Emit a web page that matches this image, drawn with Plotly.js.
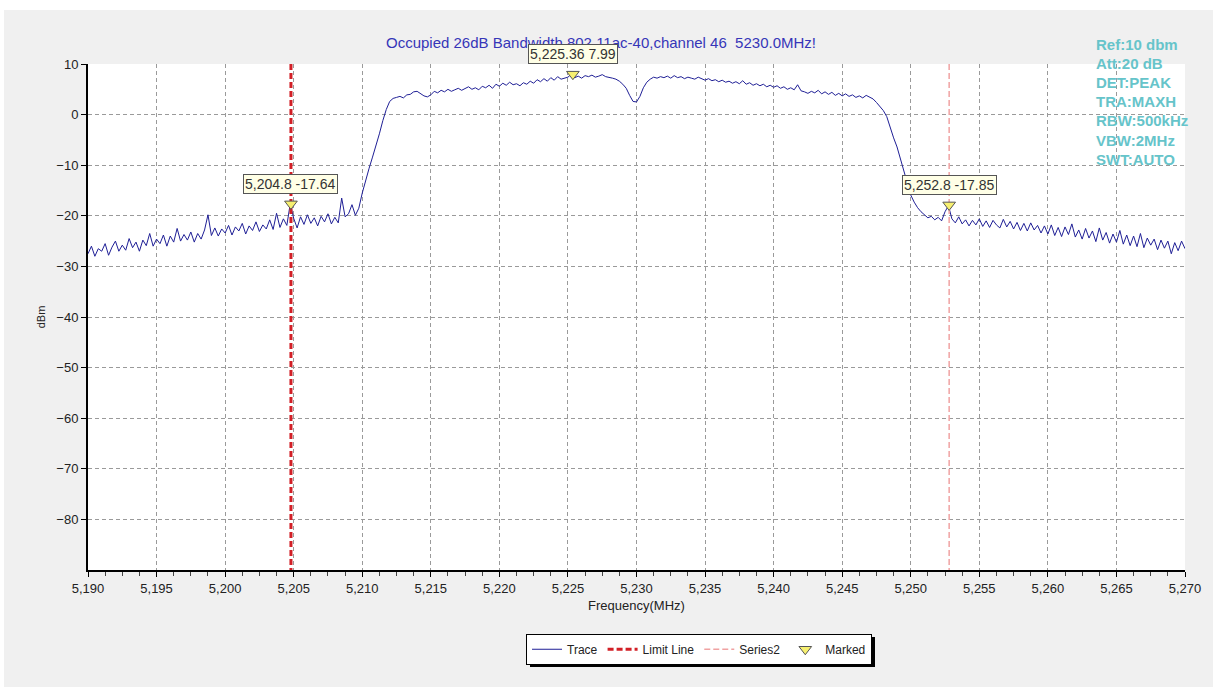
<!DOCTYPE html>
<html>
<head>
<meta charset="utf-8">
<script src="https://cdn.plot.ly/plotly-3.0.1.min.js"></script>
<style>
html,body{margin:0;padding:0;background:#ffffff;width:1219px;height:687px;overflow:hidden;}
#chart{position:absolute;left:4px;top:10px;width:1209px;height:677px;}
</style>
</head>
<body>
<div id="chart"></div>
<script>
// ---- data ----
const freqStart = 5190;      // MHz, first sample
const freqStep = 0.25;       // MHz between samples
const traceDbm = [
 -27.5,-26.0,-28.0,-26.5, -27.0,-25.5,-27.8,-26.2, -25.0,-27.0,-25.8,-26.8, -24.5,-26.3,-25.2,-27.0,
 -24.8,-25.9,-23.5,-26.0, -24.6,-25.5,-23.8,-26.0, -24.0,-25.2,-22.5,-25.0, -23.7,-24.8,-23.2,-25.2,
 -23.5,-24.6,-22.8,-19.8, -23.9,-22.4,-24.0,-22.6, -23.4,-21.9,-23.8,-22.2, -23.0,-21.5,-23.6,-22.0,
 -22.9,-21.2,-23.1,-21.8, -22.6,-20.8,-22.7,-19.5, -22.3,-20.6,-21.9,-17.6, -20.5,-22.4,-20.2,-21.7,
 -19.8,-21.5,-20.4,-22.0, -20.1,-21.2,-19.6,-21.6, -20.3,-21.4,-16.5,-20.2, -19.6,-17.8,-19.9,-18.5,
 -15.5,-12.8,-10.6,-8.4, -6.2,-3.8,-1.2,1.0, 2.6,3.2,3.4,3.6, 3.3,3.9,4.0,4.5,
 4.6,4.2,3.7,3.5, 3.9,4.6,4.3,4.8, 4.5,5.0,4.6,4.9, 5.2,4.8,5.1,5.5,
 5.0,5.3,4.9,5.6, 5.3,5.8,5.2,6.0, 5.6,6.2,5.8,6.4, 5.9,6.1,5.7,6.3,
 6.0,6.6,6.2,6.9, 6.5,7.1,6.6,7.3, 6.8,7.5,7.0,7.2, 7.4,7.99,7.3,7.6,
 7.2,7.7,7.5,7.8, 7.4,7.6,7.9,7.5, 7.4,7.2,7.0,6.6, 6.0,5.2,3.8,2.6,
 2.5,3.6,5.3,6.4, 7.0,7.4,7.2,7.5, 7.3,7.6,7.2,7.7, 7.3,7.5,7.1,7.4,
 7.2,7.0,7.4,7.1, 6.8,7.1,6.7,6.9, 6.5,6.8,6.4,6.6, 6.2,6.5,6.1,6.7,
 6.0,6.3,5.8,6.1, 5.7,6.0,5.5,5.8, 5.4,5.7,5.2,5.5, 5.0,5.3,4.9,5.9,
 4.7,4.5,4.2,4.6, 4.3,4.8,4.1,4.5, 4.0,4.4,3.8,4.2, 3.7,4.1,3.6,3.9,
 3.4,3.7,3.3,3.8, 3.4,3.1,2.4,1.6, 0.8,-0.4,-2.6,-4.6, -6.4,-8.8,-11.2,-14.0,
 -15.9,-17.3,-18.4,-19.2, -19.8,-20.4,-20.1,-20.8, -20.3,-21.0,-19.2,-18.0, -20.6,-21.4,-20.2,-21.6,
 -20.8,-22.0,-20.9,-21.8, -20.6,-22.1,-21.0,-22.3, -20.9,-21.8,-22.4,-20.7, -22.2,-21.1,-22.6,-21.3,
 -22.9,-21.5,-23.0,-21.4, -22.8,-21.9,-23.4,-22.0, -23.6,-21.8,-23.9,-22.3, -24.1,-22.2,-23.7,-21.6,
 -24.2,-22.8,-24.6,-22.5, -24.4,-23.0,-25.1,-22.4, -24.8,-23.3,-25.4,-23.6, -25.2,-22.9,-25.6,-23.8,
 -25.9,-24.0,-26.1,-23.5, -26.3,-24.4,-25.8,-24.6, -26.7,-24.8,-26.4,-25.0, -27.5,-25.3,-26.9,-25.0,
 -26.5
];
const markFreq = [5204.8, 5225.36, 5252.8];
const markDbm  = [-17.64, 7.99, -17.85];
const limitFreq = 5204.8;
const series2Freq = 5252.8;
const xRange = [5190, 5270];
const yRange = [-90, 10];
const yTickVals = [10, 0, -10, -20, -30, -40, -50, -60, -70, -80];
const infoLines = ["Ref:10 dbm", "Att:20 dB", "DET:PEAK", "TRA:MAXH", "RBW:500kHz", "VBW:2MHz", "SWT:AUTO"];
const titleText = "Occupied 26dB Bandwidth 802.11ac-40,channel 46  5230.0MHz!";

// ---- build ----
const traceFreq = traceDbm.map((_, i) => freqStart + i * freqStep);
const FONT = "'Liberation Sans', Arial, sans-serif";

const fmt = v => v.toLocaleString('en-US', {maximumFractionDigits: 2});

const data = [
  {x: traceFreq, y: traceDbm, type: 'scatter', mode: 'lines', name: 'Trace',
   line: {color: '#1f1f96', width: 1}},
  {x: [limitFreq, limitFreq], y: [yRange[1], yRange[0]], type: 'scatter', mode: 'lines', name: 'Limit Line',
   line: {color: '#d21f26', width: 3, dash: '6px,3px'}},
  {x: [series2Freq, series2Freq], y: [yRange[1], yRange[0]], type: 'scatter', mode: 'lines', name: 'Series2',
   line: {color: '#f0a2a2', width: 1.5, dash: '6px,3px'}},
  {x: markFreq, y: markDbm, type: 'scatter', mode: 'markers', name: 'Marked',
   marker: {symbol: 'triangle-down', size: 11, color: '#f7f070', line: {color: '#555555', width: 1}}}
];

const annotations = markFreq.map((f, i) => ({
  x: f, y: markDbm[i], xref: 'x', yref: 'y', showarrow: false,
  text: fmt(f) + ' ' + fmt(markDbm[i]),
  yshift: 20, bgcolor: '#ffffe6', bordercolor: '#555555', borderwidth: 1, borderpad: 1,
  font: {family: FONT, size: 14, color: '#333333'}
}));

infoLines.forEach((t, i) => {
  annotations.push({
    x: 0.917, xref: 'paper', xanchor: 'left',
    y: 1 + (64 - (44 + 19.2 * i)) / 506, yref: 'paper', yanchor: 'middle',
    showarrow: false, text: '<b>' + t + '</b>',
    font: {family: FONT, size: 15, color: '#66c4ca'}
  });
});

const gridStyle = {showgrid: true, gridcolor: '#9a9a9a', gridwidth: 1, griddash: '4px,3px'};

const layout = {
  width: 1209, height: 677,
  paper_bgcolor: '#f0f0f0', plot_bgcolor: '#ffffff',
  margin: {l: 84, r: 28, t: 54, b: 117},
  font: {family: FONT, size: 13, color: '#222222'},
  title: {text: titleText, xref: 'container', x: 0.4938, xanchor: 'center',
          yref: 'container', y: 0.951, yanchor: 'middle',
          font: {family: FONT, size: 15, color: '#3636b8'}},
  xaxis: Object.assign({
    range: xRange, dtick: 5, tick0: 5190, tickformat: ',d',
    ticks: 'outside', ticklen: 5, tickcolor: '#000', tickwidth: 1,
    showline: true, linecolor: '#000000', linewidth: 2, zeroline: false,
    minor: {dtick: 1.25, ticks: 'outside', ticklen: 4, tickcolor: '#444', showgrid: false},
    tickfont: {family: FONT, size: 13, color: '#222'},
    title: {text: 'Frequency(MHz)', standoff: 6, font: {family: FONT, size: 13, color: '#222'}}
  }, gridStyle),
  yaxis: Object.assign({
    range: yRange, tickvals: yTickVals,
    ticks: 'outside', ticklen: 5, tickcolor: '#000', tickwidth: 1,
    showline: true, linecolor: '#000000', linewidth: 2, zeroline: false,
    tickfont: {family: FONT, size: 13, color: '#222'},
    title: {text: 'dBm', standoff: 8, font: {family: FONT, size: 11, color: '#222'}}
  }, gridStyle),
  showlegend: true,
  legend: {orientation: 'h', x: 0.557, xanchor: 'center', y: -0.126, yanchor: 'top',
           bgcolor: '#ffffff', bordercolor: '#000000', borderwidth: 1,
           font: {family: FONT, size: 12, color: '#222'}, itemwidth: 30, tracegroupgap: 0},
  annotations: annotations,
  hovermode: false
};

Plotly.newPlot('chart', data, layout, {displayModeBar: false, staticPlot: true}).then(gd => {
  // drop shadow behind the legend box, as in the original chart
  const bg = gd.querySelector('g.legend rect.bg');
  if (bg) {
    const sh = bg.cloneNode(false);
    sh.setAttribute('class', 'legend-shadow');
    sh.style.fill = '#000000';
    sh.style.stroke = 'none';
    sh.setAttribute('x', (parseFloat(bg.getAttribute('x') || 0) + 3));
    sh.setAttribute('y', (parseFloat(bg.getAttribute('y') || 0) + 3));
    bg.parentNode.insertBefore(sh, bg);
  }
});
</script>
</body>
</html>
